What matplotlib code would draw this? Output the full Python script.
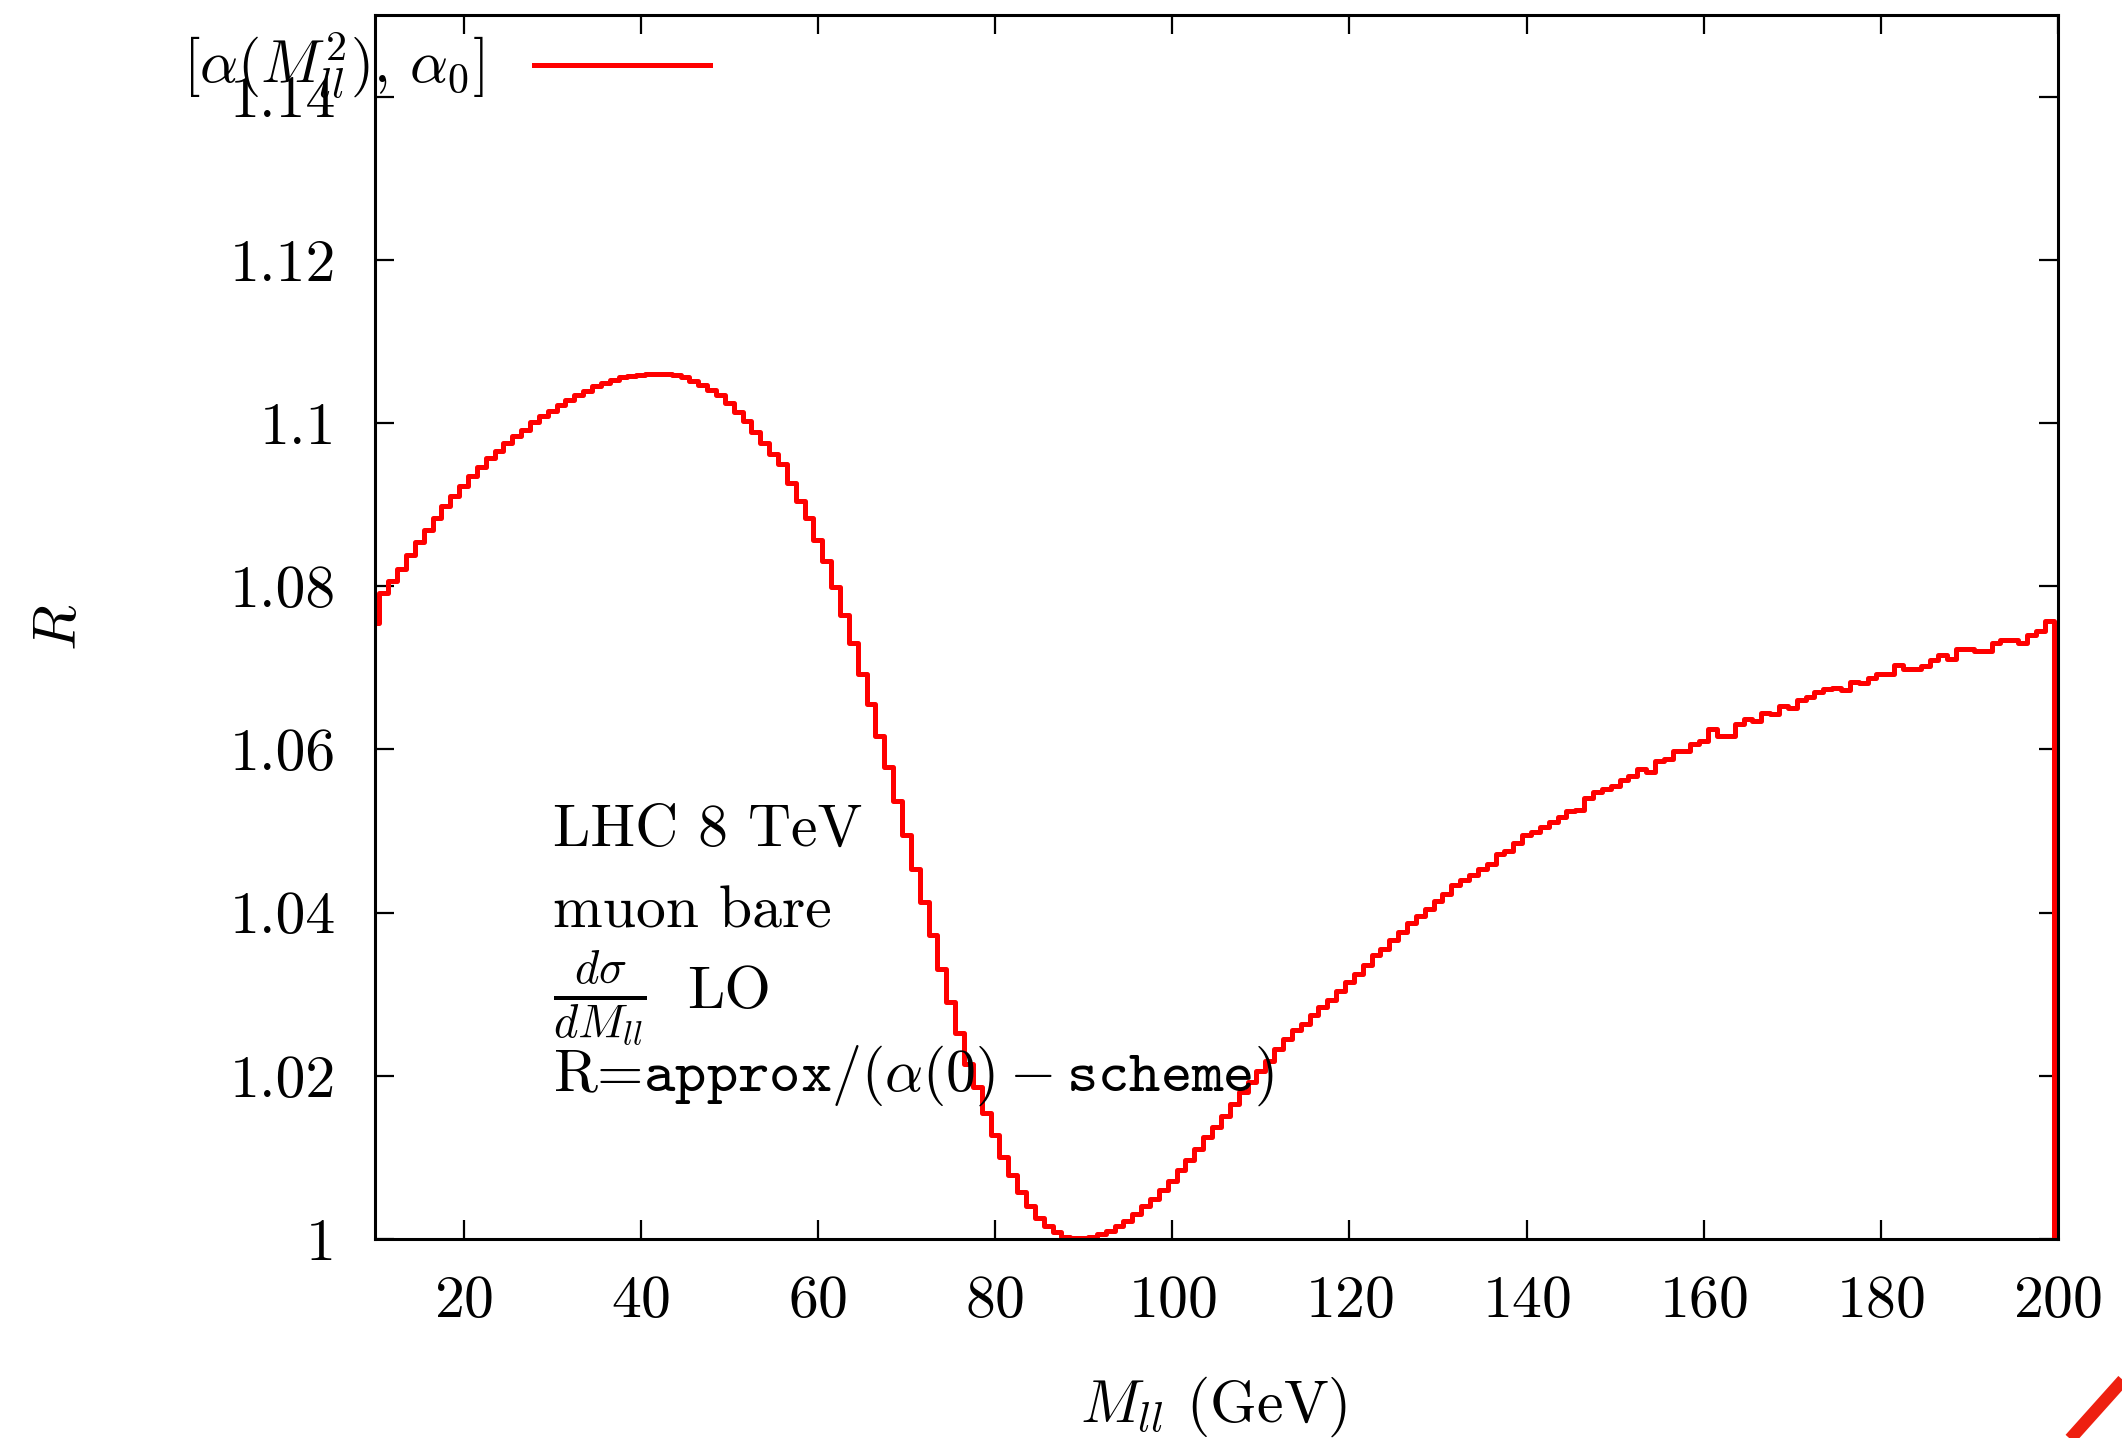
import numpy as np
import matplotlib
matplotlib.use("Agg")
import matplotlib.pyplot as plt
from matplotlib.lines import Line2D

plt.rcParams["font.family"] = "serif"
plt.rcParams["font.serif"] = ["cmr10"]
plt.rcParams["mathtext.fontset"] = "cm"
plt.rcParams["axes.formatter.use_mathtext"] = True

# bin centres (GeV) and ratio values
mll = list(range(10, 201))
ratio = [
    1.0755, 1.0792, 1.0806, 1.0821, 1.0838, 1.0854, 1.0869, 1.0884, 1.0898, 1.0911,  # 10-19
    1.0923, 1.0935, 1.0946, 1.0957, 1.0966, 1.0976, 1.0984, 1.0992, 1.1001, 1.1008,  # 20-29
    1.1015, 1.1022, 1.1028, 1.1034, 1.1039, 1.1045, 1.1049, 1.1053, 1.1056, 1.1058,  # 30-39
    1.1059, 1.1060, 1.1060, 1.1060, 1.1059, 1.1056, 1.1052, 1.1047, 1.1041, 1.1034,  # 40-49
    1.1025, 1.1014, 1.1002, 1.0989, 1.0975, 1.0962, 1.0950, 1.0927, 1.0904, 1.0884,  # 50-59
    1.0857, 1.0831, 1.0799, 1.0765, 1.0730, 1.0693, 1.0656, 1.0617, 1.0578, 1.0537,  # 60-69
    1.0495, 1.0453, 1.0413, 1.0372, 1.0331, 1.0290, 1.0252, 1.0215, 1.0186, 1.0155,  # 70-79
    1.0127, 1.0100, 1.0079, 1.0057, 1.0040, 1.0026, 1.0016, 1.0008, 1.0003, 1.0001,  # 80-89
    1.0001, 1.0002, 1.0006, 1.0010, 1.0016, 1.0022, 1.0031, 1.0040, 1.0049, 1.0060,  # 90-99
    1.0071, 1.0084, 1.0097, 1.0110, 1.0125, 1.0137, 1.0151, 1.0165, 1.0180, 1.0192,  # 100-109
    1.0206, 1.0218, 1.0233, 1.0245, 1.0256, 1.0264, 1.0274, 1.0284, 1.0293, 1.0304,  # 110-119
    1.0315, 1.0325, 1.0336, 1.0348, 1.0355, 1.0366, 1.0376, 1.0387, 1.0396, 1.0405,  # 120-129
    1.0414, 1.0423, 1.0434, 1.0440, 1.0446, 1.0454, 1.0460, 1.0472, 1.0476, 1.0485,  # 130-139
    1.0495, 1.0499, 1.0505, 1.0511, 1.0517, 1.0525, 1.0526, 1.0540, 1.0548, 1.0551,  # 140-149
    1.0555, 1.0563, 1.0568, 1.0576, 1.0572, 1.0586, 1.0588, 1.0598, 1.0598, 1.0607,  # 150-159
    1.0610, 1.0625, 1.0616, 1.0617, 1.0631, 1.0637, 1.0635, 1.0644, 1.0643, 1.0653,  # 160-169
    1.0651, 1.0660, 1.0664, 1.0670, 1.0674, 1.0675, 1.0673, 1.0683, 1.0681, 1.0687,  # 170-179
    1.0692, 1.0693, 1.0704, 1.0699, 1.0699, 1.0702, 1.0709, 1.0716, 1.0711, 1.0723,  # 180-189
    1.0723, 1.0721, 1.0721, 1.0731, 1.0734, 1.0734, 1.0730, 1.0740, 1.0745, 1.0757,  # 190-199
    0.0,  # 200 (empty bin)
]

xticks = [20, 40, 60, 80, 100, 120, 140, 160, 180, 200]
yticks = [1.0, 1.02, 1.04, 1.06, 1.08, 1.1, 1.12, 1.14]
ytick_labels = ["1", "1.02", "1.04", "1.06", "1.08", "1.1", "1.12", "1.14"]

FS = 43
W, H = 2122, 1438
fig = plt.figure(figsize=(W / 100, H / 100), dpi=100)
ax = fig.add_axes([375 / W, 1 - 1239 / H, (2058 - 375) / W, (1239 - 15) / H])

line, = ax.step(mll, ratio, where="mid", color="red", lw=3.6)

ax.set_xlim(10, 200)
ax.set_ylim(1.0, 1.15)
ax.set_xticks(xticks)
ax.set_yticks(yticks)
ax.set_yticklabels(ytick_labels)
ax.tick_params(direction="in", top=True, right=True, length=14, width=1.6,
               labelsize=FS, pad=28)
ax.tick_params(axis="x", pad=26)
for s in ax.spines.values():
    s.set_linewidth(2.2)

def fx(px):
    return px / W

def fy(py):
    return 1 - py / H

fig.text(fx(1214), fy(1407), r"$M_{ll}$ (GeV)", fontsize=FS, ha="center", va="center")
fig.text(fx(61), fy(627), r"$R$", fontsize=FS, ha="center", va="center", rotation=90)

fig.text(fx(553), fy(846), "LHC 8 TeV", fontsize=FS, va="baseline")
fig.text(fx(553), fy(928), "muon bare", fontsize=FS, va="baseline")
fig.text(fx(553), fy(998), r"$\frac{d\sigma}{dM_{ll}}$", fontsize=48, va="center")
fig.text(fx(687), fy(1008), "LO", fontsize=FS, va="baseline")
fig.text(fx(553), fy(1091), r"R=$\mathtt{approx}/(\alpha(0)-\mathtt{scheme})$",
         fontsize=FS, va="baseline")

# key: text then sample line, gnuplot style
fig.text(fx(484), fy(65), r"$[\alpha(M_{ll}^2),\,\alpha_0]$", fontsize=FS,
         ha="right", va="center")
fig.add_artist(Line2D([fx(534), fx(710)], [fy(65), fy(65)], color="red", lw=3.6,
                      transform=fig.transFigure))

# red stroke cut by the bottom-right corner
fig.add_artist(Line2D([fx(2055), fx(2150)], [fy(1456), fy(1350)], color="#ee2010",
                      lw=9, solid_capstyle="butt", transform=fig.transFigure))

fig.savefig("out.png", dpi=100)
